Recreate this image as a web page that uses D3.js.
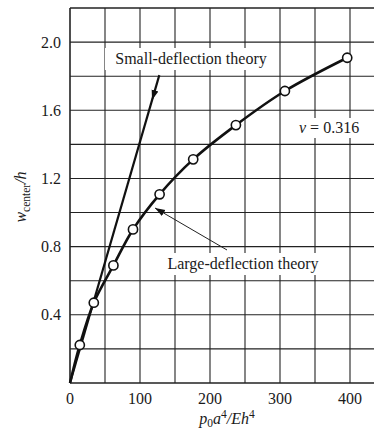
<!DOCTYPE html>
<html><head><meta charset="utf-8">
<script src="https://cdn.jsdelivr.net/npm/d3@7"></script>
<style>
html,body{margin:0;padding:0;background:#fff;}
svg{display:block;}
text{font-family:"Liberation Serif","Times New Roman",serif;fill:#1a1a1a;}
</style></head>
<body>
<svg id="chart" width="374" height="434"></svg>
<script>
// ---- data ----
const largeP = [0, 14, 34, 62, 90, 128, 176, 237, 307, 396];
const largeW = [0, 0.223, 0.471, 0.690, 0.901, 1.107, 1.312, 1.513, 1.713, 1.908];
const markerIdx = [1, 2, 3, 4, 5, 6, 7, 8, 9];
const smallP = [0, 127.6];
const smallW = [0, 1.806];
const xTicks = [0, 100, 200, 300, 400];
const yTicks = [0.4, 0.8, 1.2, 1.6, 2.0];
const xGrid = [0, 50, 100, 150, 200, 250, 300, 350, 400];
const yGrid = [0, 0.2, 0.4, 0.6, 0.8, 1.0, 1.2, 1.4, 1.6, 1.8, 2.0, 2.2];

const svg = d3.select("#chart");
const x = d3.scaleLinear().domain([0, 440]).range([70, 378]);
const y = d3.scaleLinear().domain([0, 2.2]).range([383, 8]);

const defs = svg.append("defs");
defs.append("marker").attr("id","ah").attr("viewBox","0 0 10 10")
  .attr("refX",10).attr("refY",5).attr("markerWidth",10).attr("markerHeight",10)
  .attr("markerUnits","userSpaceOnUse").attr("orient","auto")
  .append("path").attr("d","M0,1.5 L10,5 L0,8.5 Z").attr("fill","#111");

// grid
const g = svg.append("g");
g.selectAll("line.v").data(xGrid).enter().append("line")
  .attr("x1", d=>x(d)).attr("x2", d=>x(d)).attr("y1", y(0)).attr("y2", y(2.2))
  .attr("stroke","#222").attr("stroke-width", d=> d===0?1.6:1.1);
g.selectAll("line.h").data(yGrid).enter().append("line")
  .attr("x1", x(0)).attr("x2", 378).attr("y1", d=>y(d)).attr("y2", d=>y(d))
  .attr("stroke","#222").attr("stroke-width", d=> (d===0||d===2.2)?1.6:1.1);

// tick labels
svg.selectAll("text.xt").data(xTicks).enter().append("text")
  .attr("x", d=>x(d)).attr("y", 404).attr("text-anchor","middle")
  .attr("font-size", 16).text(d=>d);
svg.selectAll("text.yt").data(yTicks).enter().append("text")
  .attr("x", 61).attr("y", d=>y(d)+5.5).attr("text-anchor","end")
  .attr("font-size", 16).text(d=>d.toFixed(1));

// small deflection line
const line = d3.line().x(d=>x(d[0])).y(d=>y(d[1]));
svg.append("path").datum(smallP.map((p,i)=>[p, smallW[i]]))
  .attr("d", line).attr("fill","none").attr("stroke","#111").attr("stroke-width",2.2);

// large deflection curve
const curve = d3.line().x(d=>x(d[0])).y(d=>y(d[1])).curve(d3.curveCatmullRom.alpha(0.5));
const largeData = largeP.map((p,i)=>[p, largeW[i]]);
svg.append("path").datum(largeData)
  .attr("d", curve).attr("fill","none").attr("stroke","#111").attr("stroke-width",2.6);
svg.selectAll("circle").data(markerIdx.map(i=>largeData[i])).enter().append("circle")
  .attr("cx", d=>x(d[0])).attr("cy", d=>y(d[1])).attr("r", 4.6)
  .attr("fill","#fff").attr("stroke","#111").attr("stroke-width",1.6);

// annotations
function label(cx, cy, w, h){
  svg.append("rect").attr("x", cx-w/2).attr("y", cy-h/2).attr("width", w).attr("height", h).attr("fill","#fff");
}
// Small-deflection label
label(191, 59, 172, 22);
svg.append("text").attr("x", 191).attr("y", 64).attr("text-anchor","middle")
  .attr("font-size", 16).text("Small-deflection theory");
// arrow down along small-deflection line
svg.append("line").attr("x1", x(121)).attr("y1", y(1.71)).attr("x2", x(117.2)).attr("y2", y(1.66))
  .attr("stroke","#111").attr("stroke-width",1.2).attr("marker-end","url(#ah)");

// Large-deflection label
label(243, 264, 172, 22);
svg.append("text").attr("x", 243).attr("y", 269).attr("text-anchor","middle")
  .attr("font-size", 16).text("Large-deflection theory");
svg.append("line").attr("x1", 227).attr("y1", 250).attr("x2", 155).attr("y2", 208)
  .attr("stroke","#222").attr("stroke-width",1).attr("marker-end","url(#ah)");

// nu label
label(334, 128, 82, 20);
const nu = svg.append("text").attr("x", 299).attr("y", 133).attr("font-size", 16);
nu.append("tspan").attr("font-style","italic").text("\u03BD");
nu.append("tspan").text(" = 0.316");

// axis titles
const yl = svg.append("text").attr("transform","translate(26,197) rotate(-90)")
  .attr("text-anchor","middle").attr("font-size",16);
yl.append("tspan").attr("font-style","italic").text("w");
yl.append("tspan").attr("font-size",11.5).attr("dy",4).text("center");
yl.append("tspan").attr("dy",-4).attr("font-style","italic").text("/h");

const xl = svg.append("text").attr("x", 227).attr("y", 424).attr("text-anchor","middle").attr("font-size",16);
xl.append("tspan").attr("font-style","italic").text("p");
xl.append("tspan").attr("font-size",11.5).attr("dy",3).text("0");
xl.append("tspan").attr("dy",-3).attr("font-style","italic").text("a");
xl.append("tspan").attr("font-size",11.5).attr("dy",-6).text("4");
xl.append("tspan").attr("dy",6).attr("font-style","italic").text("/Eh");
xl.append("tspan").attr("font-size",11.5).attr("dy",-6).text("4");
</script>
</body></html>
